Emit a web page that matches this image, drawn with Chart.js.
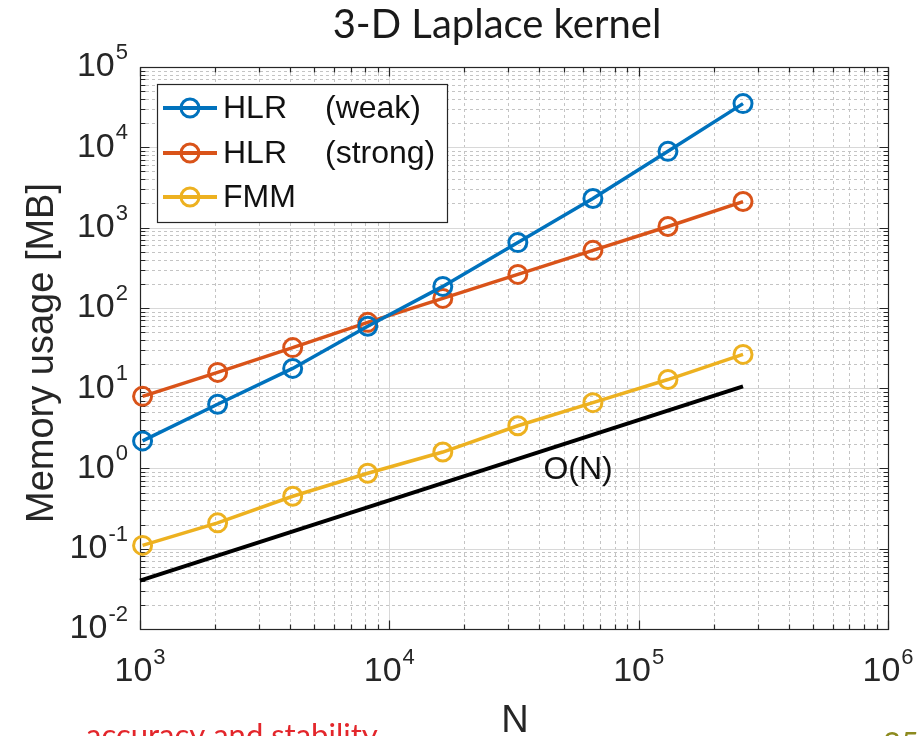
<!DOCTYPE html>
<html>
<head>
<meta charset="utf-8">
<title>3-D Laplace kernel</title>
<script src="https://cdn.jsdelivr.net/npm/chart.js@4.4.1/dist/chart.umd.min.js"></script>
<style>
  html, body { margin: 0; padding: 0; background: #ffffff; overflow: hidden; }
  #wrap { width: 918px; height: 736px; position: relative; }
  canvas { display: block; }
</style>
</head>
<body>
<div id="wrap"><canvas id="chart" width="918" height="736"></canvas></div>
<script>
// Problem sizes N and memory usage in MB for each method
const problemSizes = [1024, 2048, 4096, 8192, 16384, 32768, 65536, 131072, 262144];
const hlrWeakMB    = [2.2, 6.3, 17.6, 59, 185, 650, 2300, 8900, 35000];
const hlrStrongMB  = [7.9, 15.7, 32, 66, 131, 261, 520, 1030, 2110];
const fmmMB        = [0.11, 0.21, 0.45, 0.87, 1.6, 3.4, 6.6, 12.8, 26.3];

// Linear reference slope O(N)
const linearRefN  = [1000, 262144];
const linearRefMB = [0.04, 10.5];

// Decades shown on each log axis (tick labels are 10^k)
const xDecades = [3, 4, 5, 6];
const yDecades = [-2, -1, 0, 1, 2, 3, 4, 5];

const seriesNames = ['HLR', 'HLR', 'FMM'];
const seriesNotes = ['(weak)', '(strong)', ''];
const seriesColors = ['#0072BD', '#D95319', '#EDB120'];

const toPoints = (xs, ys) => xs.map((x, i) => ({ x: x, y: ys[i] }));

const AXIS_COLOR = '#262626';
const TICK_FONT = '"Liberation Sans", Arial, Helvetica, sans-serif';

function drawPower(ctx, exp, x, y, align) {
  const base = '10';
  const sup = String(exp);
  ctx.font = '34px ' + TICK_FONT;
  const bw = ctx.measureText(base).width;
  ctx.font = '22px ' + TICK_FONT;
  const ew = ctx.measureText(sup).width;
  const total = bw + 1 + ew;
  const left = align === 'right' ? x - total : x - total / 2;
  ctx.fillStyle = AXIS_COLOR;
  ctx.textAlign = 'left';
  ctx.textBaseline = 'middle';
  ctx.font = '34px ' + TICK_FONT;
  ctx.fillText(base, left, y);
  ctx.font = '22px ' + TICK_FONT;
  ctx.fillText(sup, left + bw + 1, y - 14);
}

const matlabAxes = {
  id: 'matlabAxes',
  beforeDatasetsDraw(chart) {
    const ctx = chart.ctx;
    const a = chart.chartArea;
    const xs = chart.scales.x, ys = chart.scales.y;
    ctx.save();

    // minor grid (dotted)
    ctx.strokeStyle = '#c4c4c4';
    ctx.lineWidth = 1;
    ctx.setLineDash([3, 3]);
    for (let i = 0; i < xDecades.length - 1; i++) {
      for (let m = 2; m <= 9; m++) {
        const px = Math.round(xs.getPixelForValue(m * Math.pow(10, xDecades[i]))) + 0.5;
        ctx.beginPath(); ctx.moveTo(px, a.top); ctx.lineTo(px, a.bottom); ctx.stroke();
      }
    }
    for (let i = 0; i < yDecades.length - 1; i++) {
      for (let m = 2; m <= 9; m++) {
        const py = Math.round(ys.getPixelForValue(m * Math.pow(10, yDecades[i]))) + 0.5;
        ctx.beginPath(); ctx.moveTo(a.left, py); ctx.lineTo(a.right, py); ctx.stroke();
      }
    }

    // major grid (solid)
    ctx.setLineDash([]);
    ctx.strokeStyle = '#d8d8d8';
    xDecades.forEach(k => {
      const px = Math.round(xs.getPixelForValue(Math.pow(10, k))) + 0.5;
      ctx.beginPath(); ctx.moveTo(px, a.top); ctx.lineTo(px, a.bottom); ctx.stroke();
    });
    yDecades.forEach(k => {
      const py = Math.round(ys.getPixelForValue(Math.pow(10, k))) + 0.5;
      ctx.beginPath(); ctx.moveTo(a.left, py); ctx.lineTo(a.right, py); ctx.stroke();
    });

    // box and inward ticks on all four sides
    ctx.strokeStyle = AXIS_COLOR;
    ctx.lineWidth = 1.2;
    const L = Math.round(a.left) + 0.5, R = Math.round(a.right) + 0.5;
    const T = Math.round(a.top) + 0.5, B = Math.round(a.bottom) + 0.5;
    ctx.strokeRect(L, T, R - L, B - T);

    const tickX = (v, len) => {
      const px = Math.round(xs.getPixelForValue(v)) + 0.5;
      ctx.beginPath();
      ctx.moveTo(px, B); ctx.lineTo(px, B - len);
      ctx.moveTo(px, T); ctx.lineTo(px, T + len);
      ctx.stroke();
    };
    const tickY = (v, len) => {
      const py = Math.round(ys.getPixelForValue(v)) + 0.5;
      ctx.beginPath();
      ctx.moveTo(L, py); ctx.lineTo(L + len, py);
      ctx.moveTo(R, py); ctx.lineTo(R - len, py);
      ctx.stroke();
    };
    for (let i = 0; i < xDecades.length; i++) {
      tickX(Math.pow(10, xDecades[i]), 9);
      if (i < xDecades.length - 1) for (let m = 2; m <= 9; m++) tickX(m * Math.pow(10, xDecades[i]), 5);
    }
    for (let i = 0; i < yDecades.length; i++) {
      tickY(Math.pow(10, yDecades[i]), 9);
      if (i < yDecades.length - 1) for (let m = 2; m <= 9; m++) tickY(m * Math.pow(10, yDecades[i]), 5);
    }
    ctx.restore();
  },
  afterDraw(chart) {
    const ctx = chart.ctx;
    const a = chart.chartArea;
    const xs = chart.scales.x, ys = chart.scales.y;
    ctx.save();

    // tick labels
    xDecades.forEach(k => drawPower(ctx, k, xs.getPixelForValue(Math.pow(10, k)), a.bottom + 43, 'center'));
    yDecades.forEach(k => drawPower(ctx, k, a.left - 12, ys.getPixelForValue(Math.pow(10, k)), 'right'));

    // axis titles
    ctx.fillStyle = AXIS_COLOR;
    ctx.font = '38px ' + TICK_FONT;
    ctx.textAlign = 'center';
    ctx.textBaseline = 'alphabetic';
    ctx.fillText('N', (a.left + a.right) / 2 + 1, 732);
    ctx.save();
    ctx.translate(53, 353);
    ctx.rotate(-Math.PI / 2);
    ctx.fillText('Memory usage [MB]', 0, 0);
    ctx.restore();

    // slope annotation
    ctx.font = '32px ' + TICK_FONT;
    ctx.textAlign = 'left';
    ctx.textBaseline = 'middle';
    ctx.fillStyle = '#111111';
    ctx.fillText('O(N)', xs.getPixelForValue(41500), 470);

    // legend
    const lx = 157.5, ly = 84.5, lw = 290, lh = 138;
    ctx.fillStyle = '#ffffff';
    ctx.fillRect(lx, ly, lw, lh);
    ctx.strokeStyle = AXIS_COLOR;
    ctx.lineWidth = 1.2;
    ctx.strokeRect(lx, ly, lw, lh);
    const rows = [108, 153, 197];
    chart.data.datasets.slice(0, 3).forEach((ds, i) => {
      const y = rows[i];
      ctx.strokeStyle = ds.borderColor;
      ctx.lineWidth = 4;
      ctx.beginPath(); ctx.moveTo(163, y); ctx.lineTo(217, y); ctx.stroke();
      ctx.lineWidth = 3;
      ctx.beginPath(); ctx.arc(190, y, 9, 0, Math.PI * 2); ctx.stroke();
      ctx.fillStyle = '#111111';
      ctx.font = '32px ' + TICK_FONT;
      ctx.textAlign = 'left';
      ctx.textBaseline = 'middle';
      ctx.fillText(seriesNames[i], 223, y + 1);
      if (seriesNotes[i]) ctx.fillText(seriesNotes[i], 325, y + 1);
    });

    // heading
    ctx.fillStyle = '#1a1a1a';
    ctx.font = '40px Lato, "Open Sans", sans-serif';
    ctx.textAlign = 'center';
    ctx.textBaseline = 'alphabetic';
    ctx.fillText('3-D Laplace kernel', 497, 38);

    // footer line running off the bottom edge
    ctx.textAlign = 'left';
    ctx.fillStyle = '#e3262b';
    ctx.font = '31px Lato, sans-serif';
    ctx.fillText('accuracy and stability', 86, 746);
    ctx.fillStyle = '#8c8a1e';
    ctx.fillText('25', 883, 754);
    ctx.restore();
  }
};

const chart = new Chart(document.getElementById('chart'), {
  type: 'line',
  data: {
    datasets: [
      { label: 'HLR (weak)', data: toPoints(problemSizes, hlrWeakMB), borderColor: seriesColors[0] },
      { label: 'HLR (strong)', data: toPoints(problemSizes, hlrStrongMB), borderColor: seriesColors[1] },
      { label: 'FMM', data: toPoints(problemSizes, fmmMB), borderColor: seriesColors[2] },
      { label: 'O(N)', data: toPoints(linearRefN, linearRefMB), borderColor: '#000000',
        borderWidth: 4, pointRadius: 0 }
    ].map(ds => Object.assign({
      borderWidth: 3.5,
      pointRadius: 9,
      pointBorderWidth: 3,
      pointBackgroundColor: 'rgba(0,0,0,0)',
      pointBorderColor: ds.borderColor,
      fill: false,
      tension: 0,
      clip: false
    }, ds))
  },
  options: {
    responsive: false,
    animation: false,
    devicePixelRatio: 1,
    layout: { padding: { left: 140, right: 30, top: 67, bottom: 107 } },
    scales: {
      x: { type: 'logarithmic', min: 1000, max: 1e6, display: false },
      y: { type: 'logarithmic', min: 0.01, max: 1e5, display: false }
    },
    plugins: {
      legend: { display: false },
      tooltip: { enabled: false },
      title: { display: false }
    },
    events: []
  },
  plugins: [matlabAxes]
});
</script>
</body>
</html>
